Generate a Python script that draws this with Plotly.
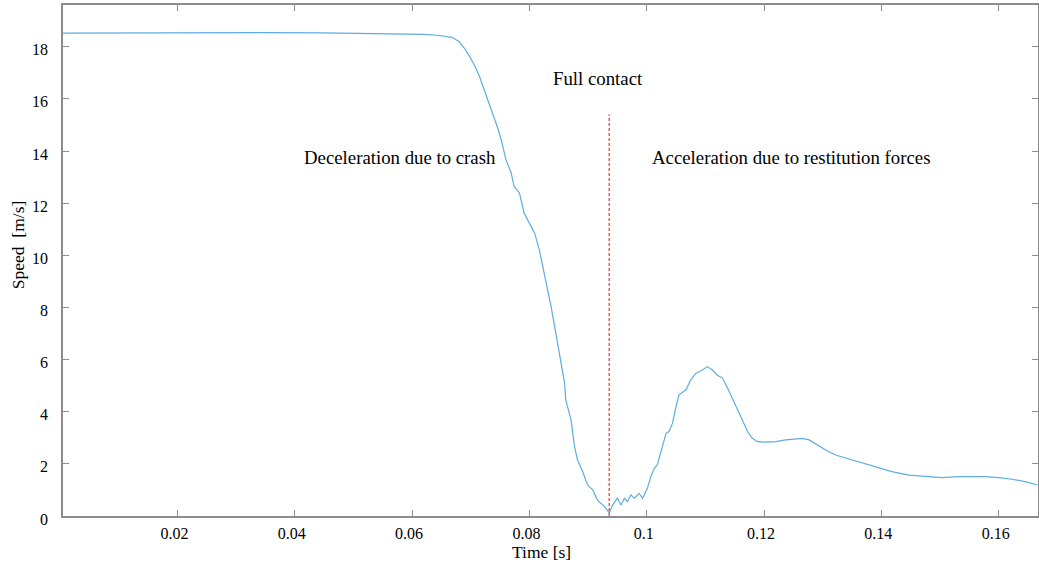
import plotly.graph_objects as go

# Time [s]
time_s = [0.0005, 0.010, 0.0145, 0.020, 0.030, 0.035, 0.045, 0.055, 0.062, 0.0647,
          0.0668, 0.0680, 0.0689, 0.0698, 0.0706, 0.0715, 0.0721, 0.0729, 0.0735, 0.0746,
          0.0752, 0.0760, 0.0769, 0.0774, 0.0783, 0.0791, 0.0803, 0.0809, 0.0817, 0.0823,
          0.0831, 0.0837, 0.0843, 0.0848, 0.0854, 0.0860, 0.0862, 0.0871, 0.0877, 0.0882,
          0.0891, 0.0899, 0.0908, 0.0916, 0.0928, 0.0936, 0.0942, 0.0950, 0.0956, 0.0962,
          0.0967, 0.0973, 0.0979, 0.0987, 0.0993, 0.0999, 0.1001, 0.1007, 0.1013, 0.1018,
          0.1024, 0.1027, 0.1030, 0.1033, 0.1038, 0.1044, 0.1050, 0.1055, 0.1067, 0.1075,
          0.1084, 0.1095, 0.1103, 0.1112, 0.1120, 0.1129, 0.1138, 0.1146, 0.1155, 0.1163,
          0.1172, 0.1180, 0.1189, 0.1203, 0.1220, 0.1237, 0.1254, 0.1265, 0.1277, 0.1288,
          0.1305, 0.1322, 0.1345, 0.1367, 0.1390, 0.1418, 0.1447, 0.1475, 0.1503, 0.1532,
          0.1555, 0.1577, 0.1600, 0.1623, 0.1645, 0.1666]
# Speed [m/s]
speed = [18.52, 18.53, 18.52, 18.54, 18.55, 18.54, 18.53, 18.50, 18.47, 18.43,
         18.36, 18.20, 17.95, 17.63, 17.31, 16.86, 16.48, 16.00, 15.58, 14.88,
         14.43, 13.67, 13.16, 12.64, 12.39, 11.62, 11.10, 10.85, 10.21, 9.57,
         8.68, 8.03, 7.27, 6.63, 5.86, 5.10, 4.45, 3.69, 2.66, 2.15,
         1.70, 1.19, 1.00, 0.61, 0.36, 0.12, 0.42, 0.68, 0.42, 0.68,
         0.55, 0.81, 0.68, 0.87, 0.68, 1.00, 1.06, 1.51, 1.83, 1.96,
         2.41, 2.66, 2.92, 3.17, 3.24, 3.56, 4.20, 4.65, 4.84, 5.22,
         5.48, 5.60, 5.73, 5.60, 5.41, 5.29, 4.90, 4.52, 4.07, 3.69,
         3.24, 2.98, 2.85, 2.83, 2.85, 2.92, 2.96, 2.98, 2.92, 2.76,
         2.53, 2.34, 2.19, 2.02, 1.87, 1.70, 1.57, 1.51, 1.47, 1.51,
         1.52, 1.51, 1.47, 1.41, 1.32, 1.19]

x_tickvals = [0.02, 0.04, 0.06, 0.08, 0.1, 0.12, 0.14, 0.16]
x_ticktext = ["0.02", "0.04", "0.06", "0.08", "0.1", "0.12", "0.14", "0.16"]
y_tickvals = [0, 2, 4, 6, 8, 10, 12, 14, 16, 18]

contact_time = 0.0936
contact_line_top = 15.4

annotations_text = ["Full contact", "Deceleration due to crash", "Acceleration due to restitution forces"]
annotations_x = [0.0917, 0.0579, 0.1246]
annotations_y = [16.8, 13.74, 13.74]

x_title = "Time [s]"
y_title = "Speed\u00a0\u00a0[m/s]"

FONT = "Liberation Serif"
AXIS_COLOR = "#8c8c8c"

fig = go.Figure()
fig.add_trace(go.Scatter(x=time_s, y=speed, mode="lines",
                         line=dict(color="#5DADE2", width=1.2), showlegend=False))
fig.add_trace(go.Scatter(x=[contact_time, contact_time], y=[0, contact_line_top], mode="lines",
                         line=dict(color="#FF0000", width=1, dash="3px,2px"), showlegend=False))

for t, xa, ya in zip(annotations_text, annotations_x, annotations_y):
    fig.add_annotation(x=xa, y=ya, text=t, showarrow=False,
                       font=dict(family=FONT, size=18.8, color="#000000"))

# axis titles as paper-positioned annotations
fig.add_annotation(xref="paper", yref="paper", x=0.491, y=0, yshift=-36,
                   xanchor="center", yanchor="middle", text=x_title, showarrow=False,
                   font=dict(family=FONT, size=17.5, color="#000000"))
fig.add_annotation(xref="paper", yref="paper", x=0, xshift=-45, y=0.53,
                   xanchor="center", yanchor="middle", textangle=-90, text=y_title,
                   showarrow=False, font=dict(family=FONT, size=17.5, color="#000000"))

fig.update_layout(
    width=1039, height=567,
    margin=dict(l=63, r=1, t=5, b=51),
    paper_bgcolor="white", plot_bgcolor="white",
    font=dict(family=FONT, size=16, color="#000000"),
    xaxis=dict(range=[0.0005, 0.1667], tickvals=x_tickvals, ticktext=x_ticktext,
               automargin=False, ticklabelstandoff=2, ticklabelshift=-3,
               showgrid=False, zeroline=False, showline=True, mirror="ticks",
               linecolor=AXIS_COLOR, linewidth=1.5, ticks="inside", ticklen=6,
               tickcolor=AXIS_COLOR, tickfont=dict(family=FONT, size=16)),
    yaxis=dict(range=[0, 19.6], tickvals=y_tickvals,
               automargin=False, ticklabelstandoff=10, ticklabelshift=3,
               showgrid=False, zeroline=False, showline=True, mirror="ticks",
               linecolor=AXIS_COLOR, linewidth=1.5, ticks="inside", ticklen=6,
               tickcolor=AXIS_COLOR, tickfont=dict(family=FONT, size=16)),
)

fig.write_html("out.html", config={"displayModeBar": False},
               post_script="document.body.style.margin='0';document.body.style.padding='0';")
